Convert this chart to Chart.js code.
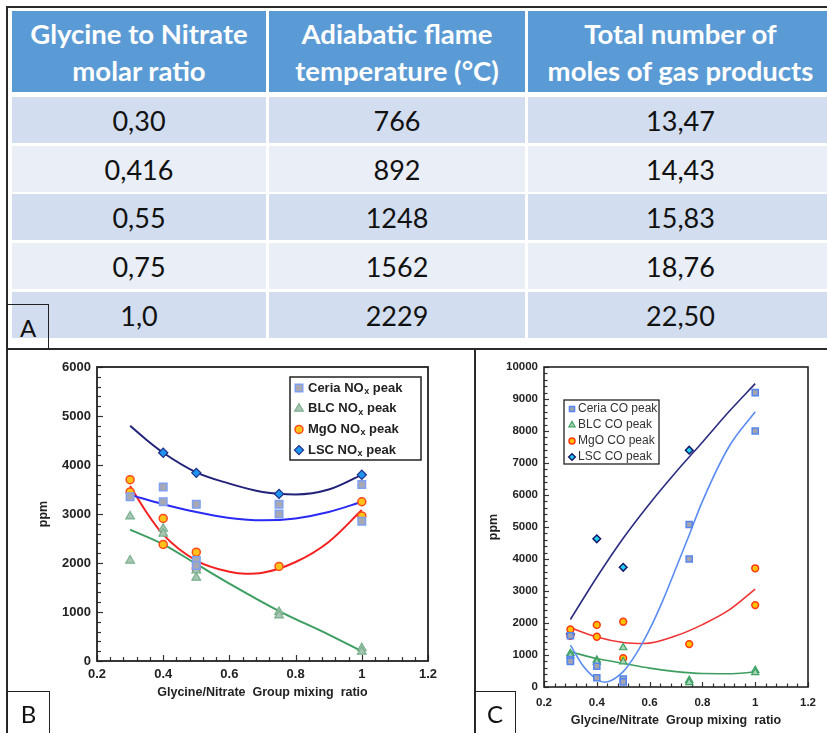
<!DOCTYPE html>
<html><head><meta charset="utf-8">
<script src="https://cdn.jsdelivr.net/npm/chart.js@4.4.1/dist/chart.umd.min.js"></script>
<style>
html,body{margin:0;padding:0;background:#fff;}
#page{position:relative;width:827px;height:733px;overflow:hidden;background:#fff;font-family:Lato,'Noto Sans',sans-serif;}
.ln{position:absolute;background:#2a2a2a;}
.cell{position:absolute;display:flex;align-items:center;justify-content:center;text-align:center;box-sizing:border-box;white-space:pre;}
.hdr{background:#5b9bd5;color:#fff;font-weight:700;font-size:27.5px;line-height:37px;}
.odd{background:#d2deef;}
.even{background:#e9eef7;}
.bod{font-size:27px;color:#111;}
.lab{position:absolute;border:1.5px solid #222;box-sizing:border-box;font-family:Lato,sans-serif;font-size:24px;display:flex;align-items:center;justify-content:center;color:#111;}
canvas{position:absolute;}
</style></head>
<body>
<div id="page">
  <div id="table"></div>
  <div class="ln" style="left:6px;top:6px;width:821px;height:2px"></div>
  <div class="ln" style="left:6px;top:6px;width:2px;height:727px"></div>
  <div class="ln" style="left:6px;top:348px;width:821px;height:2px"></div>
  <div class="ln" style="left:474px;top:348px;width:2px;height:385px"></div>
  <div class="lab" style="left:7px;top:304px;width:42px;height:46px">A</div>
  <canvas id="chartB" width="466" height="383" style="left:8px;top:350px;width:466px;height:383px"></canvas>
  <canvas id="chartC" width="351" height="383" style="left:476px;top:350px;width:351px;height:383px"></canvas>
  <div class="lab" style="left:7px;top:691px;width:43px;height:44px">B</div>
  <div class="lab" style="left:474px;top:691px;width:42px;height:44px">C</div>
</div>
<script>
// ---------- Panel A: table ----------
const tableHeaders = ['Glycine to Nitrate\nmolar ratio', 'Adiabatic flame\ntemperature (°C)', 'Total number of\nmoles of gas products'];
const molarRatio = ['0,30', '0,416', '0,55', '0,75', '1,0'];
const flameTemp = ['766', '892', '1248', '1562', '2229'];
const gasMoles = ['13,47', '14,43', '15,83', '18,76', '22,50'];

// ---------- Panel B: NOx peaks ----------
const ceriaNOxX = [0.3, 0.4, 0.4, 0.5, 0.5, 0.5, 0.75, 0.75, 1.0, 1.0];
const ceriaNOxY = [3350, 3550, 3250, 3200, 2050, 1950, 3200, 3000, 3600, 2850];
const blcNOxX = [0.3, 0.3, 0.4, 0.4, 0.5, 0.5, 0.75, 0.75, 1.0, 1.0];
const blcNOxY = [2950, 2050, 2700, 2600, 1850, 1700, 1000, 930, 260, 190];
const mgoNOxX = [0.3, 0.3, 0.4, 0.4, 0.5, 0.5, 0.75, 1.0, 1.0];
const mgoNOxY = [3700, 3450, 2910, 2380, 2220, 1890, 1930, 3250, 2960];
const lscNOxX = [0.4, 0.5, 0.75, 1.0];
const lscNOxY = [4250, 3840, 3410, 3800];
// trend curves
const lscNOxFitX = [0.3, 0.35, 0.4, 0.5, 0.6, 0.7, 0.8, 0.9, 1.0];
const lscNOxFitY = [4800, 4510, 4250, 3850, 3620, 3450, 3400, 3500, 3800];
const ceriaNOxFitX = [0.3, 0.4, 0.5, 0.6, 0.7, 0.8, 0.9, 1.0];
const ceriaNOxFitY = [3390, 3200, 3040, 2920, 2870, 2910, 3040, 3250];
const mgoNOxFitX = [0.3, 0.35, 0.4, 0.5, 0.6, 0.65, 0.7, 0.8, 0.9, 1.0];
const mgoNOxFitY = [3570, 3030, 2580, 2050, 1820, 1780, 1800, 2020, 2430, 3080];
const blcNOxFitX = [0.3, 0.4, 0.5, 0.6, 0.75, 0.9, 1.0];
const blcNOxFitY = [2680, 2380, 1980, 1580, 1020, 540, 200];

// ---------- Panel C: CO peaks ----------
const ceriaCOX = [0.3, 0.3, 0.3, 0.4, 0.4, 0.5, 0.5, 0.75, 0.75, 1.0, 1.0];
const ceriaCOY = [1600, 860, 800, 650, 290, 250, 160, 5080, 4000, 9200, 8000];
const blcCOX = [0.3, 0.3, 0.4, 0.4, 0.5, 0.5, 0.75, 0.75, 1.0, 1.0];
const blcCOY = [1050, 980, 840, 780, 1230, 790, 210, 140, 520, 450];
const mgoCOX = [0.3, 0.3, 0.4, 0.4, 0.5, 0.5, 0.75, 1.0, 1.0];
const mgoCOY = [1800, 1600, 1940, 1570, 2040, 900, 1340, 3710, 2560];
const lscCOX = [0.3, 0.4, 0.5, 0.75];
const lscCOY = [1660, 4630, 3740, 7400];
const lscCOFitX = [0.3, 0.4, 0.5, 0.6, 0.7, 0.8, 0.9, 1.0];
const lscCOFitY = [2110, 3430, 4650, 5730, 6720, 7650, 8600, 9480];
const ceriaCOFitX = [0.3, 0.35, 0.4, 0.43, 0.5, 0.55, 0.6, 0.65, 0.7, 0.75, 0.8, 0.9, 1.0];
const ceriaCOFitY = [1310, 640, 240, 150, 480, 1050, 1800, 2700, 3720, 4750, 5800, 7500, 8600];
const mgoCOFitX = [0.3, 0.4, 0.5, 0.58, 0.7, 0.8, 0.9, 1.0];
const mgoCOFitY = [1850, 1560, 1390, 1360, 1600, 1950, 2400, 3060];
const blcCOFitX = [0.3, 0.4, 0.5, 0.6, 0.7, 0.8, 0.9, 1.0];
const blcCOFitY = [1100, 890, 740, 590, 480, 420, 415, 470];

const xTicks = [0.2, 0.4, 0.6, 0.8, 1, 1.2];

// ---------- build table ----------
(function buildTable() {
  const t = document.getElementById('table');
  const colLeft = [12, 269, 528], colW = [254, 256, 305];
  const rowTop = [97, 146, 194, 243, 292], rowH = 46;
  tableHeaders.forEach((h, c) => {
    const d = document.createElement('div');
    d.className = 'cell hdr';
    d.style.cssText = `left:${colLeft[c]}px;top:11px;width:${colW[c]}px;height:81px;`;
    d.textContent = h;
    t.appendChild(d);
  });
  const cols = [molarRatio, flameTemp, gasMoles];
  for (let r = 0; r < molarRatio.length; r++) {
    cols.forEach((arr, c) => {
      const d = document.createElement('div');
      d.className = 'cell bod ' + (r % 2 === 0 ? 'odd' : 'even');
      d.style.cssText = `left:${colLeft[c]}px;top:${rowTop[r]}px;width:${colW[c]}px;height:${rowH}px;`;
      d.textContent = arr[r];
      t.appendChild(d);
    });
  }
})();

const pts = (xs, ys) => xs.map((x, i) => ({x: x, y: ys[i]}));
const FONT = "'Liberation Sans', Arial, sans-serif";

// inward ticks + frame
const frameTicks = {
  id: 'frameTicks',
  beforeDatasetsDraw(chart, args, o) {
    const {ctx, chartArea: {left, right, top, bottom}, scales: {x, y}} = chart;
    ctx.save();
    ctx.strokeStyle = '#333';
    ctx.lineWidth = 1.2;
    const nY = Math.round((y.max - y.min) / o.yMinor);
    for (let i = 0; i <= nY; i++) {
      const v = y.min + i * o.yMinor;
      const py = Math.round(y.getPixelForValue(v)) + 0.5;
      const len = (i % o.per === 0) ? o.major : o.minor;
      ctx.beginPath(); ctx.moveTo(left, py); ctx.lineTo(left + len, py); ctx.stroke();
    }
    const nX = Math.round((x.max - x.min) / o.xMinor);
    for (let i = 0; i <= nX; i++) {
      const v = x.min + i * o.xMinor;
      const px = Math.round(x.getPixelForValue(v)) + 0.5;
      const len = (i % o.per === 0) ? o.major : o.minor;
      ctx.beginPath(); ctx.moveTo(px, bottom); ctx.lineTo(px, bottom - len); ctx.stroke();
    }
    ctx.restore();
  },
  afterDraw(chart, args, o) {
    const {ctx, chartArea: {left, right, top, bottom}} = chart;
    ctx.save();
    ctx.strokeStyle = '#222';
    ctx.lineWidth = o.frame;
    ctx.strokeRect(left, top, right - left, bottom - top);
    ctx.restore();
  }
};

function drawMarker(ctx, ds, r, x, y) {
  ctx.save();
  ctx.fillStyle = ds.backgroundColor;
  ctx.strokeStyle = ds.borderColor;
  ctx.lineWidth = ds.borderWidth;
  if (Chart.helpers && Chart.helpers.drawPoint) {
    Chart.helpers.drawPoint(ctx, {pointStyle: ds.pointStyle, radius: r, rotation: 0, borderWidth: ds.borderWidth}, x, y);
  } else {
    ctx.beginPath(); ctx.arc(x, y, r, 0, Math.PI * 2); ctx.fill(); ctx.stroke();
  }
  ctx.restore();
}

const insideLegend = {
  id: 'insideLegend',
  afterDraw(chart, args, o) {
    const ctx = chart.ctx;
    ctx.save();
    ctx.fillStyle = '#fff';
    ctx.fillRect(o.x, o.y, o.w, o.h);
    ctx.strokeStyle = '#222';
    ctx.lineWidth = o.border;
    ctx.strokeRect(o.x, o.y, o.w, o.h);
    o.items.forEach((di, i) => {
      const ds = chart.data.datasets[di];
      const cy = o.y + o.first + i * o.step;
      drawMarker(ctx, ds, o.r[i], o.x + o.markerDx, cy);
      ctx.fillStyle = o.color;
      ctx.textBaseline = 'middle';
      ctx.textAlign = 'left';
      const font = `${o.weight} ${o.size}px ${FONT}`;
      ctx.font = font;
      let tx = o.x + o.textDx;
      const label = ds.label;
      const k = label.indexOf('NOx');
      if (k >= 0) {
        const a = label.slice(0, k + 2), b = label.slice(k + 3);
        ctx.fillText(a, tx, cy); tx += ctx.measureText(a).width;
        ctx.font = `${o.weight} ${Math.round(o.size * 0.72)}px ${FONT}`;
        ctx.fillText('x', tx + 0.5, cy + 3.5); tx += ctx.measureText('x').width + 0.5;
        ctx.font = font;
        ctx.fillText(b, tx, cy);
      } else {
        ctx.fillText(label, tx, cy);
      }
    });
    ctx.restore();
  }
};

function pointSet(label, xs, ys, style, r, fill, border, bw) {
  return {label, data: pts(xs, ys), pointStyle: style, pointRadius: r, pointHoverRadius: r,
    backgroundColor: fill, borderColor: border, borderWidth: bw, pointBorderWidth: bw, showLine: false, order: 0};
}
function lineSet(xs, ys, color, w) {
  return {label: '', data: pts(xs, ys), showLine: true, pointRadius: 0, borderColor: color,
    borderWidth: w, cubicInterpolationMode: 'monotone', fill: false, order: 1};
}

function axes(cfg) {
  return {
    x: {type: 'linear', min: 0.2, max: 1.2,
      afterBuildTicks: s => { s.ticks = xTicks.map(v => ({value: v})); },
      afterFit: s => { s.height = cfg.xH; },
      grid: {display: false, drawTicks: false}, border: {display: false},
      ticks: {color: '#222', padding: cfg.xPad, font: {family: FONT, size: cfg.tick, weight: 'bold'},
        callback: v => String(Math.round(v * 10) / 10)},
      title: {display: true, text: 'Glycine/Nitrate  Group mixing  ratio', color: '#222',
        font: {family: FONT, size: cfg.title, weight: 'bold'}, padding: {top: 0, bottom: cfg.xTitlePad}}
    },
    y: {type: 'linear', min: 0, max: cfg.yMax,
      afterFit: s => { s.width = cfg.yW; },
      grid: {display: false, drawTicks: false}, border: {display: false},
      ticks: {stepSize: cfg.yStep, color: '#222', padding: cfg.yPad, font: {family: FONT, size: cfg.tick, weight: 'bold'},
        callback: v => String(v)},
      title: {display: true, text: 'ppm', color: '#222', font: {family: FONT, size: cfg.title, weight: 'bold'}, padding: 0}
    }
  };
}

Chart.defaults.font.family = FONT;

// ---------- Chart B ----------
new Chart(document.getElementById('chartB'), {
  type: 'scatter',
  data: {datasets: [
    pointSet('Ceria NOx peak', ceriaNOxX, ceriaNOxY, 'rect', 5.3, '#a7a8b2', '#7fa0f2', 1.5),
    pointSet('BLC NOx peak', blcNOxX, blcNOxY, 'triangle', 5, '#a9c6b4', '#78b08c', 1.2),
    pointSet('MgO NOx peak', mgoNOxX, mgoNOxY, 'circle', 4, '#ffc21a', '#ff4a1a', 1.5),
    pointSet('LSC NOx peak', lscNOxX, lscNOxY, 'rectRot', 4.6, '#1e94ee', '#1f2f88', 1.2),
    lineSet(lscNOxFitX, lscNOxFitY, '#22227a', 2),
    lineSet(ceriaNOxFitX, ceriaNOxFitY, '#2a2af5', 2),
    lineSet(mgoNOxFitX, mgoNOxFitY, '#f42020', 2),
    lineSet(blcNOxFitX, blcNOxFitY, '#3d9e62', 2)
  ]},
  options: {
    responsive: false, animation: false, devicePixelRatio: 1,
    layout: {padding: {left: 28, top: 17, right: 46, bottom: 0}},
    scales: axes({xH: 72, yW: 61, yMax: 6000, yStep: 1000, tick: 13, title: 12.5, xPad: 6, yPad: 6, xTitlePad: 33}),
    plugins: {
      legend: {display: false}, tooltip: {enabled: false},
      frameTicks: {yMinor: 200, xMinor: 0.04, per: 5, major: 6, minor: 4, frame: 1.8},
      insideLegend: {x: 282, y: 27, w: 131, h: 83, border: 1.5, first: 11, step: 20.7, markerDx: 9, textDx: 18,
        items: [0, 1, 2, 3], r: [5.3, 5, 4, 4.6], size: 13, weight: 'bold', color: '#222'}
    }
  },
  plugins: [frameTicks, insideLegend]
});

// ---------- Chart C ----------
new Chart(document.getElementById('chartC'), {
  type: 'scatter',
  data: {datasets: [
    pointSet('Ceria CO peak', ceriaCOX, ceriaCOY, 'rect', 4.3, '#a3a4ac', '#5585f2', 1.5),
    pointSet('BLC CO peak', blcCOX, blcCOY, 'triangle', 4.2, '#a6d4b4', '#3fa266', 1.2),
    pointSet('MgO CO peak', mgoCOX, mgoCOY, 'circle', 3.4, '#ffc000', '#ff3a10', 1.5),
    pointSet('LSC CO peak', lscCOX, lscCOY, 'rectRot', 3.8, '#22d4f4', '#141a6a', 1.5),
    lineSet(lscCOFitX, lscCOFitY, '#2b2b82', 1.6),
    lineSet(ceriaCOFitX, ceriaCOFitY, '#5a8cf2', 1.6),
    lineSet(mgoCOFitX, mgoCOFitY, '#f03434', 1.6),
    lineSet(blcCOFitX, blcCOFitY, '#3e9e60', 1.6)
  ]},
  options: {
    responsive: false, animation: false, devicePixelRatio: 1,
    layout: {padding: {left: 10, top: 17, right: 19, bottom: 0}},
    scales: axes({xH: 46, yW: 58, yMax: 10000, yStep: 1000, tick: 11.5, title: 12.5, xPad: 9, yPad: 6, xTitlePad: 4.5}),
    plugins: {
      legend: {display: false}, tooltip: {enabled: false},
      frameTicks: {yMinor: 200, xMinor: 0.04, per: 5, major: 5, minor: 3.5, frame: 1.6},
      insideLegend: {x: 88, y: 50, w: 95, h: 64, border: 1.3, first: 9, step: 16, markerDx: 8, textDx: 14,
        items: [0, 1, 2, 3], r: [3.6, 3.6, 3, 3.3], size: 12, weight: 'normal', color: '#333'}
    }
  },
  plugins: [frameTicks, insideLegend]
});
</script>
</body></html>
